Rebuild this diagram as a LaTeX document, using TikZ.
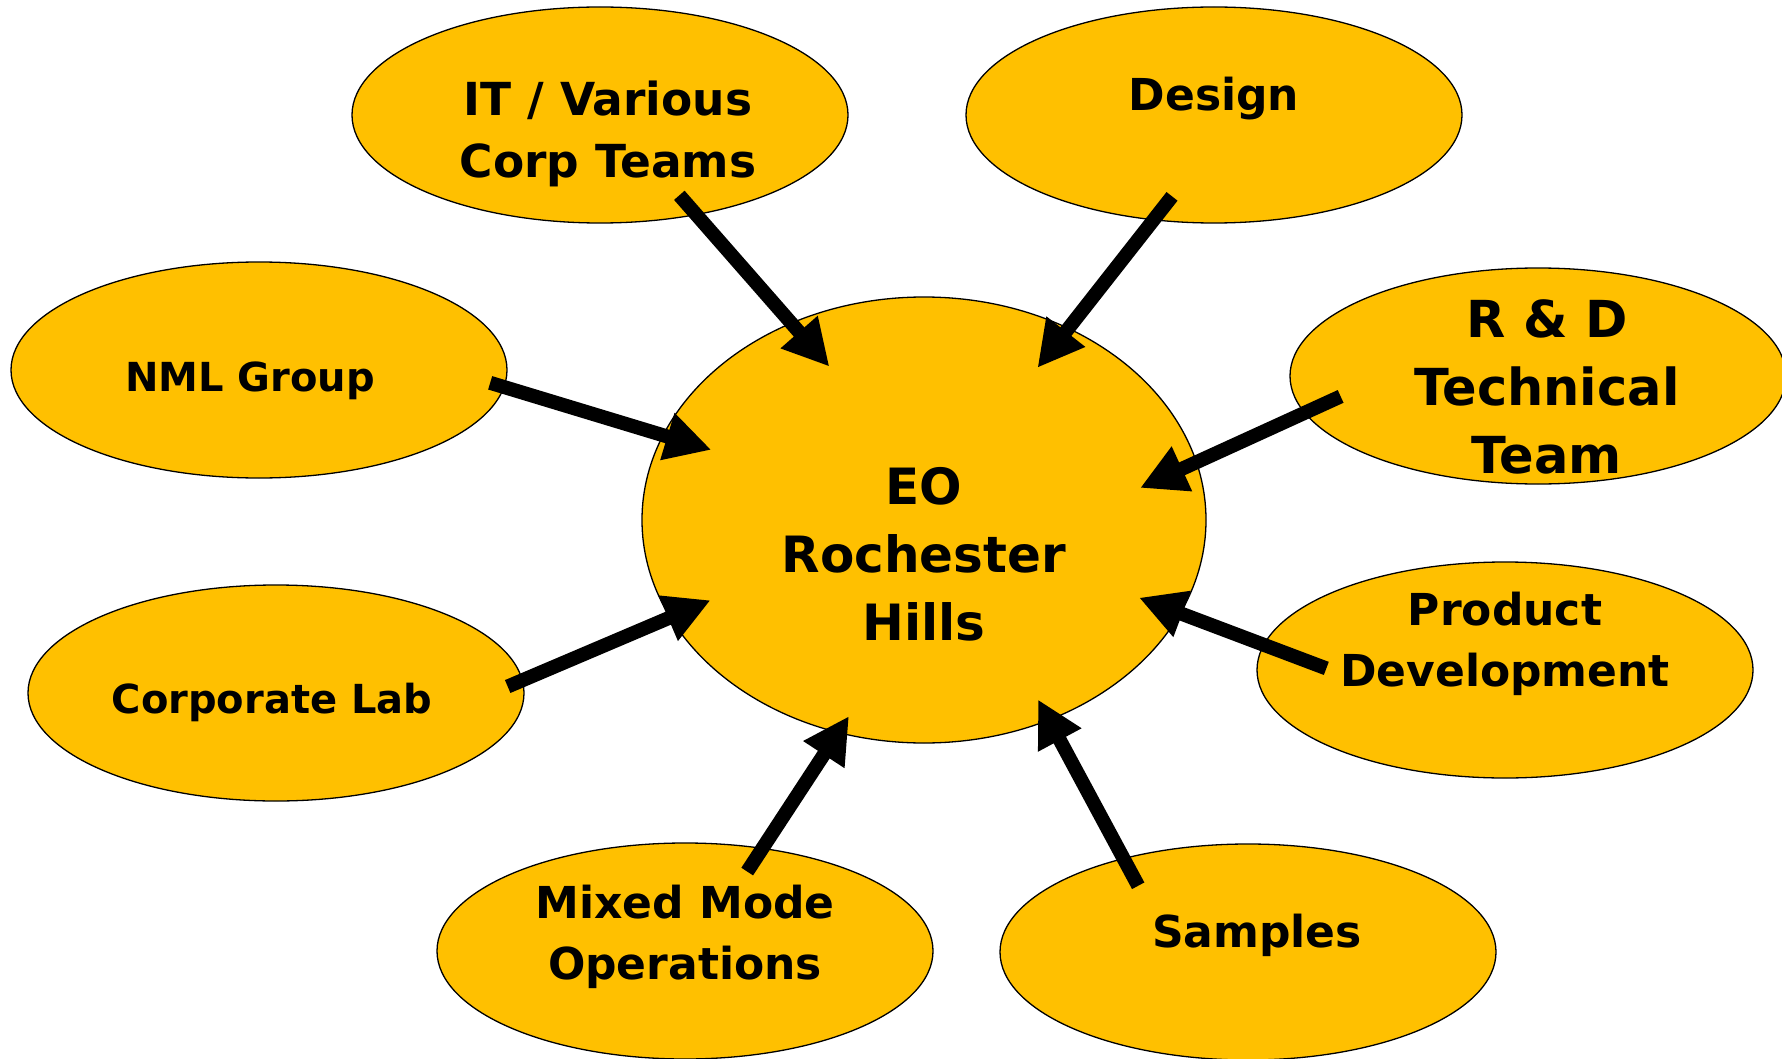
\documentclass[tikz,border=0pt]{standalone}
\usepackage{fontspec}
\setmainfont{DejaVu Sans}
\usetikzlibrary{arrows.meta,shapes.geometric}
\definecolor{gold}{HTML}{FFC000}
\tikzset{
	blob/.style={ellipse, draw=black, line width=1.3pt, fill=gold, minimum width=496pt, minimum height=216pt, inner sep=0pt},
	hub/.style={blob, minimum width=564pt, minimum height=446pt},
	lbl/.style={align=center, font=\bfseries\fontsize{44}{61}\selectfont, inner sep=0pt},
	push/.style={line width=14pt, -{Triangle[width=46pt,length=46pt]}}
}

\begin{document}
\begin{tikzpicture}[x=1pt,y=-1pt]
	\useasboundingbox (0,0) rectangle (1782,1059);
	%outer groups
	\foreach \n/\x/\y in {it/600/115, design/1214/115, nml/259/370, rd/1538/376, corp/276/693, prod/1505/670, mixed/685/951, samples/1248/952}
		\node[blob] (\n) at (\x,\y) {};
	%the site in the middle
	\node[hub] (eo) at (924,520) {};
	
	%labels
	\node[lbl, font=\bfseries\fontsize{45.5}{62}\selectfont] (itText) at (608,134) {IT / Various\\Corp Teams};
	\node[lbl] (designText) at (1214,99) {Design};
	\node[lbl, font=\bfseries\fontsize{40}{48}\selectfont] (nmlText) at (250,381) {NML Group};
	\node[lbl, font=\bfseries\fontsize{51}{68}\selectfont] (rdText) at (1547,387) {R \& D\\Technical\\Team};
	\node[lbl, font=\bfseries\fontsize{40}{48}\selectfont] (corpText) at (272,702) {Corporate Lab};
	\node[lbl] (prodText) at (1505,644) {Product\\Development};
	\node[lbl] (mixedText) at (685,937) {Mixed Mode\\Operations};
	\node[lbl] (samplesText) at (1257,935) {Samples};
	\node[lbl, font=\bfseries\fontsize{50}{68}\selectfont] (eoText) at (924,554) {EO\\Rochester\\Hills};
	
	%arrows into the middle
	\foreach \from/\a/\b/\s/\e in {it/-46.6/124.0/26.3/58.4, design/-120.8/53.5/30.5/50.7, nml/-4.0/162.8/15.0/51.0, rd/-171.1/12.8/40.0/62.5, corp/3.3/-159.2/16.5/44.4, prod/174.7/-20.5/67.4/44.6, mixed/53.6/-112.5/28.4/20.2, samples/143.7/-58.7/31.5/23.8}
		\draw[push, shorten <=-\s pt, shorten >=-\e pt] (\from.\a) -- (eo.\b);
\end{tikzpicture}
\end{document}
